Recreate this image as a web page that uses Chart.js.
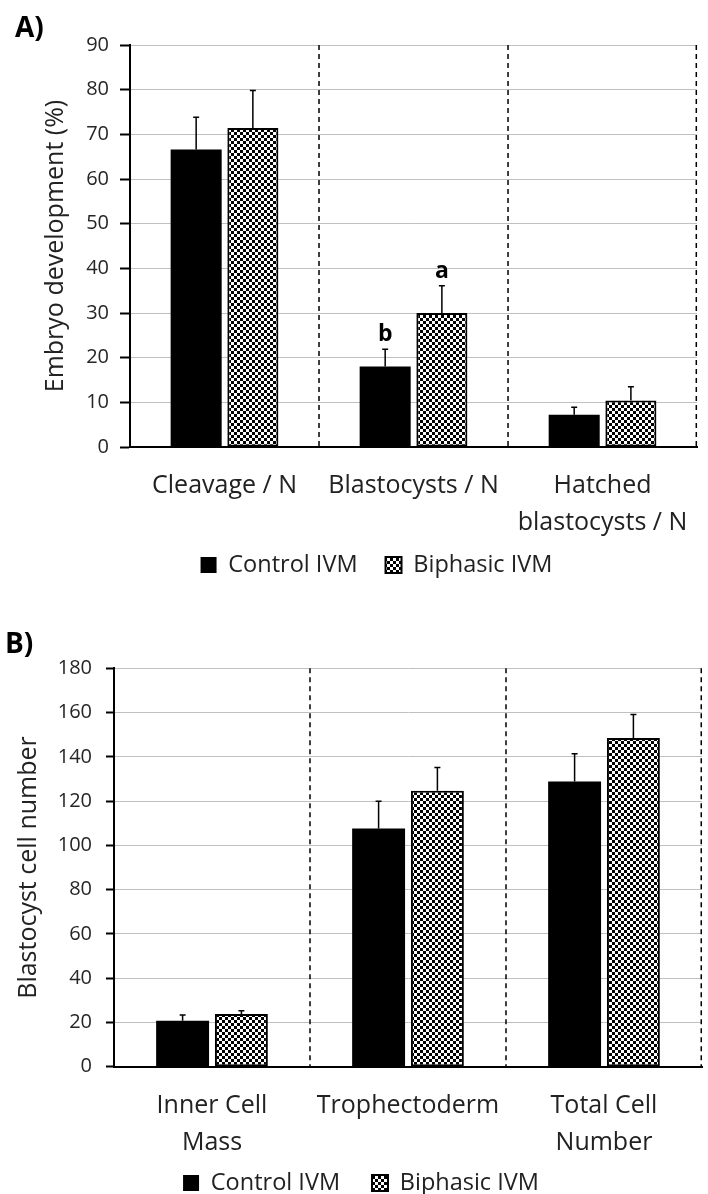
<!DOCTYPE html>
<html><head><meta charset="utf-8">
<script src="https://cdn.jsdelivr.net/npm/chart.js@4.4.0/dist/chart.umd.min.js"></script>
<style>
html,body{margin:0;padding:0;background:#fff;width:708px;height:1194px;overflow:hidden}
.panel{position:absolute;left:0;width:708px;overflow:hidden}
#pa{top:0;height:600px}
#pb{top:600px;height:594px}
.lbl{position:absolute;font-family:'Open Sans';font-weight:700;font-size:28px;color:#000;line-height:1}
</style></head><body>
<div class="panel" id="pa"><canvas id="ca" width="708" height="600"></canvas></div>
<div class="panel" id="pb"><canvas id="cb" width="708" height="610"></canvas></div>
<div class="lbl" style="left:15px;top:12px">A)</div>
<div class="lbl" style="left:5px;top:628px">B)</div>
<script>
// ---- Data: panel A ----
const categoriesA = ['Cleavage / N', 'Blastocysts / N', ['Hatched', 'blastocysts / N']];
const controlA = [66.6, 18.0, 7.2];
const controlErrA = [7.2, 3.9, 1.7];
const biphasicA = [71.4, 30.0, 10.4];
const biphasicErrA = [8.4, 6.1, 3.1];
const sigControlA = ['', 'b', ''];
const sigBiphasicA = ['', 'a', ''];
const yTitleA = 'Embryo development (%)';
const yMaxA = 90;
const yStepA = 10;

// ---- Data: panel B ----
const categoriesB = [['Inner Cell', 'Mass'], 'Trophectoderm', ['Total Cell', 'Number']];
const controlB = [20.8, 107.6, 128.8];
const controlErrB = [2.6, 12.3, 12.6];
const biphasicB = [23.8, 124.7, 148.5];
const biphasicErrB = [1.5, 10.5, 10.6];
const sigControlB = ['', '', ''];
const sigBiphasicB = ['', '', ''];
const yTitleB = 'Blastocyst cell number';
const yMaxB = 180;
const yStepB = 20;

const seriesNames = ['Control IVM', 'Biphasic IVM'];

Chart.defaults.font.family = "'Open Sans'";
Chart.defaults.color = '#222';

function checker() {
  const c = document.createElement('canvas');
  c.width = 6; c.height = 6;
  const x = c.getContext('2d');
  x.fillStyle = '#fff'; x.fillRect(0, 0, 6, 6);
  x.fillStyle = '#000'; x.fillRect(0, 0, 3, 3); x.fillRect(3, 3, 3, 3);
  return x.createPattern(c, 'repeat');
}

const extras = {
  id: 'extras',
  afterLayout(chart) {
    // let the multi-line category labels extend below the axis box without clipping
    const x = chart.scales.x;
    x.bottom = x.top + 120;
  },
  beforeDatasetsDraw(chart) {
    const {ctx, chartArea: a, scales: {x}} = chart;
    const n = chart.data.labels.length;
    const half = (x.getPixelForValue(1) - x.getPixelForValue(0)) / 2;
    ctx.save();
    ctx.strokeStyle = '#000';
    ctx.lineWidth = 1.5;
    ctx.setLineDash([5, 4]);
    for (let i = 0; i < n; i++) {
      let px = Math.min(x.getPixelForValue(i) + half, a.right - 0.75);
      ctx.beginPath();
      ctx.moveTo(px, a.top);
      ctx.lineTo(px, a.bottom);
      ctx.stroke();
    }
    ctx.restore();
  },
  afterDatasetsDraw(chart) {
    const {ctx, scales: {y}} = chart;
    ctx.save();
    chart.data.datasets.forEach((ds, d) => {
      const meta = chart.getDatasetMeta(d);
      meta.data.forEach((bar, i) => {
        const top = bar.y;
        const capY = y.getPixelForValue(ds.data[i] + ds.errors[i]);
        ctx.strokeStyle = '#000';
        ctx.lineWidth = 1.5;
        ctx.beginPath();
        ctx.moveTo(bar.x, top);
        ctx.lineTo(bar.x, capY);
        ctx.moveTo(bar.x - 3, capY);
        ctx.lineTo(bar.x + 3, capY);
        ctx.stroke();
        const s = ds.sig[i];
        if (s) {
          ctx.fillStyle = '#000';
          ctx.font = "700 23px 'Open Sans'";
          ctx.textAlign = 'center';
          ctx.textBaseline = 'alphabetic';
          ctx.fillText(s, bar.x, capY - 8);
        }
      });
    });
    ctx.restore();
  }
};

function makeChart(id, cfg) {
  const pat = checker();
  return new Chart(document.getElementById(id), {
    type: 'bar',
    data: {
      labels: cfg.labels,
      datasets: [
        {label: seriesNames[0], data: cfg.control, errors: cfg.controlErr, sig: cfg.sigControl,
         backgroundColor: '#000', borderColor: '#000', borderWidth: 0,
         barPercentage: 0.9, categoryPercentage: 0.6},
        {label: seriesNames[1], data: cfg.biphasic, errors: cfg.biphasicErr, sig: cfg.sigBiphasic,
         backgroundColor: pat, borderColor: '#000', borderWidth: 2, borderSkipped: false,
         barPercentage: 0.9, categoryPercentage: 0.6}
      ]
    },
    options: {
      responsive: false,
      animation: false,
      events: [],
      layout: {padding: cfg.pad},
      plugins: {
        tooltip: {enabled: false},
        legend: {
          position: 'bottom',
          labels: {font: {size: 23.5}, color: '#222', boxWidth: 16, boxHeight: 16, padding: cfg.legPad}
        }
      },
      scales: {
        x: {
          grid: {display: false, drawTicks: false},
          border: {display: true, color: '#000', width: 2},
          ticks: {font: {size: 25, lineHeight: '37px'}, color: '#222', padding: 20.5,
                  maxRotation: 0, minRotation: 0, autoSkip: false},
          afterFit: s => { s.height = cfg.xH; }
        },
        y: {
          min: 0, max: cfg.yMax,
          ticks: {stepSize: cfg.yStep, font: {size: 20}, color: '#262626', padding: cfg.tickPad},
          grid: {color: '#c0c0c0', lineWidth: 1, tickColor: '#000', tickWidth: 2, tickLength: cfg.tickLen},
          border: {display: true, color: '#000', width: 2},
          title: {display: true, text: cfg.yTitle, color: '#222',
                  font: {size: 25, lineHeight: cfg.titleLH}, padding: {top: cfg.titlePadTop, bottom: 0}},
          afterFit: s => { s.width = cfg.yW; }
        }
      }
    },
    plugins: [extras]
  });
}

makeChart('ca', {
  labels: categoriesA, control: controlA, controlErr: controlErrA, biphasic: biphasicA, biphasicErr: biphasicErrA,
  sigControl: sigControlA, sigBiphasic: sigBiphasicA, yTitle: yTitleA, yMax: yMaxA, yStep: yStepA,
  pad: {top: 45, left: 46, right: 1, bottom: 13.25}, yW: 84, xH: 78.25, legPad: 28,
  tickPad: 11, tickLen: 10, titleLH: '20px', titlePadTop: 0
});
makeChart('cb', {
  labels: categoriesB, control: controlB, controlErr: controlErrB, biphasic: biphasicB, biphasicErr: biphasicErrB,
  sigControl: sigControlB, sigBiphasic: sigBiphasicB, yTitle: yTitleB, yMax: yMaxB, yStep: yStepB,
  pad: {top: 68.3, left: 20, right: 6, bottom: 5.25}, yW: 94, xH: 72.55, legPad: 32,
  tickPad: 14, tickLen: 8, titleLH: '18px', titlePadTop: 0
});
</script>
</body></html>
